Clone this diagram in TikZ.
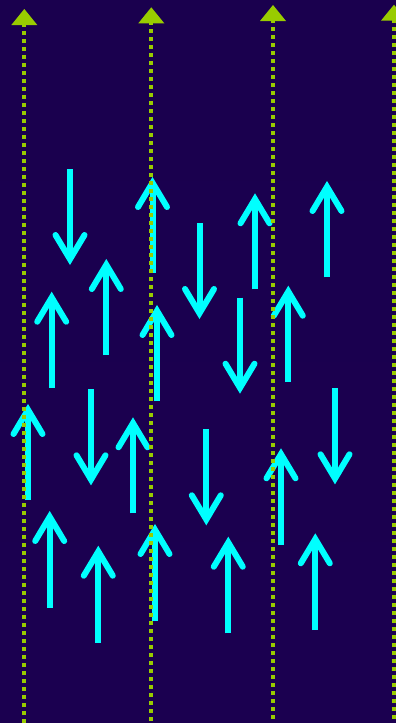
\documentclass[tikz,border=0pt]{standalone}
\definecolor{bgtop}{HTML}{1A004E}
\definecolor{bgmid}{HTML}{22005F}
\definecolor{bgbot}{HTML}{1B0050}
\definecolor{ygreen}{HTML}{99CC00}
\definecolor{arrcyan}{HTML}{00FFFF}
\tikzset{
  cyanshaft/.style={draw=arrcyan, line width=6pt, line cap=butt},
  cyanhead/.style={draw=arrcyan, line width=6pt, line cap=round, line join=miter},
  dotline/.style={draw=ygreen, line width=4pt, dash pattern=on 4pt off 4pt},
  tritip/.style={fill=ygreen}
}
\newcommand\cyanup[3]{%
  \draw[cyanshaft] ({#1},{#3}) -- ({#1},{#2+5.8});
  \draw[cyanhead] ({#1-14.5},{#2+30}) -- ({#1},{#2+5.8}) -- ({#1+14.5},{#2+30});
}
\newcommand\cyandown[3]{%
  \draw[cyanshaft] ({#1},{#2}) -- ({#1},{#3-5.8});
  \draw[cyanhead] ({#1-14.5},{#3-30}) -- ({#1},{#3-5.8}) -- ({#1+14.5},{#3-30});
}
\newcommand\dotvert[3]{%
  \draw[dotline] ({#1},{#3}) -- ({#1},730);
  \fill[tritip] ({#1},{#2}) -- ({#1-13},{#2+16}) -- ({#1+13},{#2+16}) -- cycle;
}
\begin{document}
\begin{tikzpicture}[x=1pt,y=-1pt]
\useasboundingbox (0,0) rectangle (396,723);
\shade[top color=bgtop, middle color=bgmid, bottom color=bgbot] (0,0) rectangle (396,723);
% cyan arrows
\cyandown{70}{169}{265}
\cyanup{152.5}{177}{273}
\cyandown{199.5}{223}{319}
\cyanup{255}{193.3}{289.3}
\cyanup{327}{181}{277.3}
\cyanup{106.3}{259}{355}
\cyanup{51.7}{291.7}{387.7}
\cyanup{157}{305}{401}
\cyandown{240}{297.7}{393.7}
\cyanup{288.3}{285.7}{382}
\cyanup{28}{404}{500}
\cyandown{91}{389.3}{485.3}
\cyanup{133}{417.3}{513.3}
\cyandown{206.3}{429}{525.3}
\cyanup{281}{448.3}{544.7}
\cyandown{335}{388}{484.3}
\cyanup{49.7}{511}{607.7}
\cyanup{98.3}{545.7}{642.7}
\cyanup{155}{524}{620.7}
\cyanup{228.3}{536.7}{633.3}
\cyanup{315.3}{533.3}{630}
% dotted lines with triangle heads
\dotvert{24.3}{9}{23.3}
\dotvert{151.3}{7.3}{21.3}
\dotvert{273}{5}{19.3}
\dotvert{394}{4.7}{19}
\end{tikzpicture}
\end{document}
